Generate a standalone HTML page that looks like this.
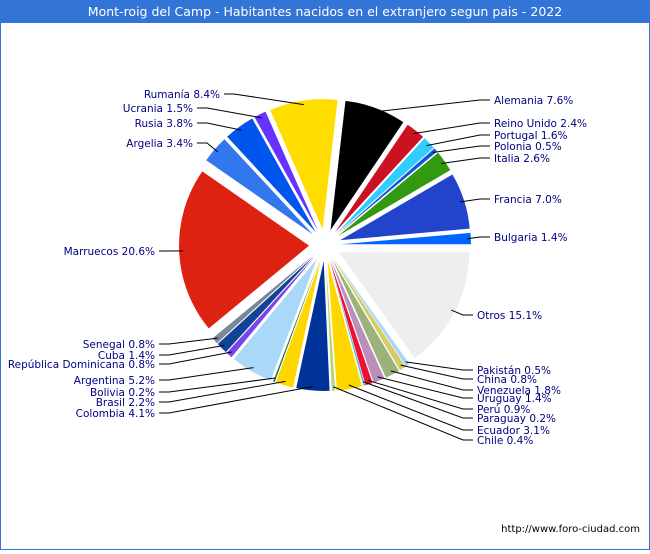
<!DOCTYPE html>
<html><head><meta charset="utf-8"><style>
body{margin:0;background:#fff;font-family:"DejaVu Sans","Liberation Sans",sans-serif}
#wrap{position:relative;width:650px;height:550px}
</style></head><body>
<div id="wrap">
<svg id="chart" width="650" height="550" xmlns="http://www.w3.org/2000/svg">
<rect x="0.5" y="0.5" width="649" height="549" fill="#fff" stroke="#3375d6"/>
<rect x="0" y="0" width="650" height="23" fill="#3375d6"/>
<text x="325" y="16" text-anchor="middle" fill="#fff" font-size="12.5">Mont-roig del Camp - Habitantes nacidos en el extranjero segun pais - 2022</text>
<g id="slices"></g><g id="lines"></g><g id="labels"></g>
<text x="640" y="532" text-anchor="end" font-size="10" fill="#000">http://www.foro-ciudad.com</text>
</svg>
</div>
<script>
const categories=["Otros","Pakistán","China","Venezuela","Uruguay","Perú","Paraguay","Ecuador","Chile","Colombia","Brasil","Bolivia","Argentina","República Dominicana","Cuba","Senegal","Marruecos","Argelia","Rusia","Ucrania","Rumanía","Alemania","Reino Unido","Portugal","Polonia","Italia","Francia","Bulgaria"];
const values=[15.1,0.5,0.8,1.8,1.4,0.9,0.2,3.1,0.4,4.1,2.2,0.2,5.2,0.8,1.4,0.8,20.6,3.4,3.8,1.5,8.4,7.6,2.4,1.6,0.5,2.6,7.0,1.4];
const colors=["#eeeeee","#aad4f8","#d4cc66","#99b37a","#bb8fbb","#ee1133","#55bbbb","#ffd700","#b5d56a","#003399","#ffd700","#227744","#aad8f8","#7744ee","#114499","#778899","#dd2211","#3377ee","#0055ee","#6633ff","#ffdd00","#000000","#cc1122","#33ccff","#1155dd","#339911","#2244cc","#0066ff"];
// label anchor [x,y,side]
const labelPos=[[477,318,1],[477,373,1],[477,382,1],[477,393,1],[477,401,1],[477,412,1],[477,421,1],[477,433,1],[477,443,1],[155,416,0],[155,405,0],[155,395,0],[155,383,0],[155,367,0],[155,358,0],[155,347,0],[155,254,0],[193,146,0],[193,126,0],[193,111,0],[220,97,0],[494,103,1],[494,126,1],[494,138,1],[494,149,1],[494,161,1],[494,202,1],[494,240,1]];
const cx=325,cy=245,R=130,E=16,NS="http://www.w3.org/2000/svg";
const total=values.reduce((a,b)=>a+b,0);
function pt(a,r,ox,oy){return [ox+r*Math.cos(a),oy+r*Math.sin(a)];}
let acc=0;
const gS=document.getElementById('slices'),gL=document.getElementById('lines'),gT=document.getElementById('labels');
values.forEach((v,i)=>{
  const a0=acc/total*2*Math.PI, a1=(acc+v)/total*2*Math.PI; acc+=v;
  const am=(a0+a1)/2, ox=cx+E*Math.cos(am), oy=cy+E*Math.sin(am);
  const p0=pt(a0,R,ox,oy),p1=pt(a1,R,ox,oy);
  const p=document.createElementNS(NS,'path');
  p.setAttribute('d',`M${ox},${oy}L${p0[0]},${p0[1]}A${R},${R} 0 ${a1-a0>Math.PI?1:0} 1 ${p1[0]},${p1[1]}Z`);
  p.setAttribute('fill',colors[i]);
  
  
  gS.appendChild(p);
  const lp=labelPos[i], e=pt(am,R-4,ox,oy);
  const lx=lp[2]?lp[0]-4:lp[0]+4;
  const l=document.createElementNS(NS,'polyline');
  const ex=lp[2]?Math.max(e[0]+6,lx-10):Math.min(e[0]-6,lx+10);
  l.setAttribute('points',`${e[0]},${e[1]} ${ex},${lp[1]-3} ${lx},${lp[1]-3}`);
  l.setAttribute('fill','none');l.setAttribute('stroke','#000');l.setAttribute('stroke-width','1');
  
  
  gL.appendChild(l);
  const t=document.createElementNS(NS,'text');
  t.setAttribute('x',lp[0]);t.setAttribute('y',lp[1]+1);
  t.setAttribute('text-anchor',lp[2]?'start':'end');
  t.setAttribute('font-size','10.5');t.setAttribute('fill','#000080');
  t.textContent=categories[i]+' '+v.toFixed(1)+'%';
  
  
  gT.appendChild(t);
});
</script>
</body></html>
